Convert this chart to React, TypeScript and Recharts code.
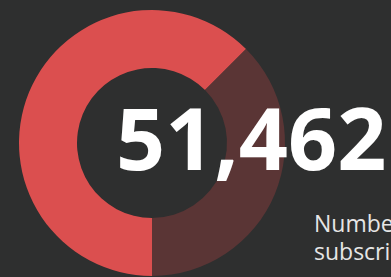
import { PieChart, Pie, Cell } from "recharts";

const segmentNames = ["Subscribers", "Remaining"];
const segmentValues = [62.5, 37.5];
const segmentColors = ["#db4f4f", "#5a3535"];
const bigNumber = "51,462";
const captionLines = ["Number of", "subscribers"];

const data = segmentNames.map((name, i) => ({ name, value: segmentValues[i] }));

export default function App() {
  return (
    <div
      style={{
        position: "fixed",
        left: 0,
        top: 0,
        width: 391,
        height: 277,
        background: "#2e2f2f",
        overflow: "hidden",
      }}
    >
      <PieChart width={391} height={277} margin={{ top: 0, right: 0, bottom: 0, left: 0 }}>
        <Pie
          data={data}
          dataKey="value"
          cx={152}
          cy={143}
          innerRadius={75}
          outerRadius={133}
          startAngle={270}
          endAngle={-90}
          stroke="none"
          isAnimationActive={false}
        >
          {data.map((d, i) => (
            <Cell key={d.name} fill={segmentColors[i]} />
          ))}
        </Pie>
      </PieChart>
      <svg
        width={391}
        height={277}
        style={{ position: "absolute", left: 0, top: 0, pointerEvents: "none" }}
      >
        <text
          x={116}
          y={170}
          fill="#ffffff"
          fontFamily="'Open Sans', sans-serif"
          fontWeight={700}
          fontSize={86}
        >
          {bigNumber}
        </text>
        <text x={314} y={232} fill="#e6e6e6" fontFamily="'Open Sans', sans-serif" fontSize={23}>
          {captionLines[0]}
        </text>
        <text x={314} y={260} fill="#e6e6e6" fontFamily="'Open Sans', sans-serif" fontSize={23}>
          {captionLines[1]}
        </text>
      </svg>
    </div>
  );
}
